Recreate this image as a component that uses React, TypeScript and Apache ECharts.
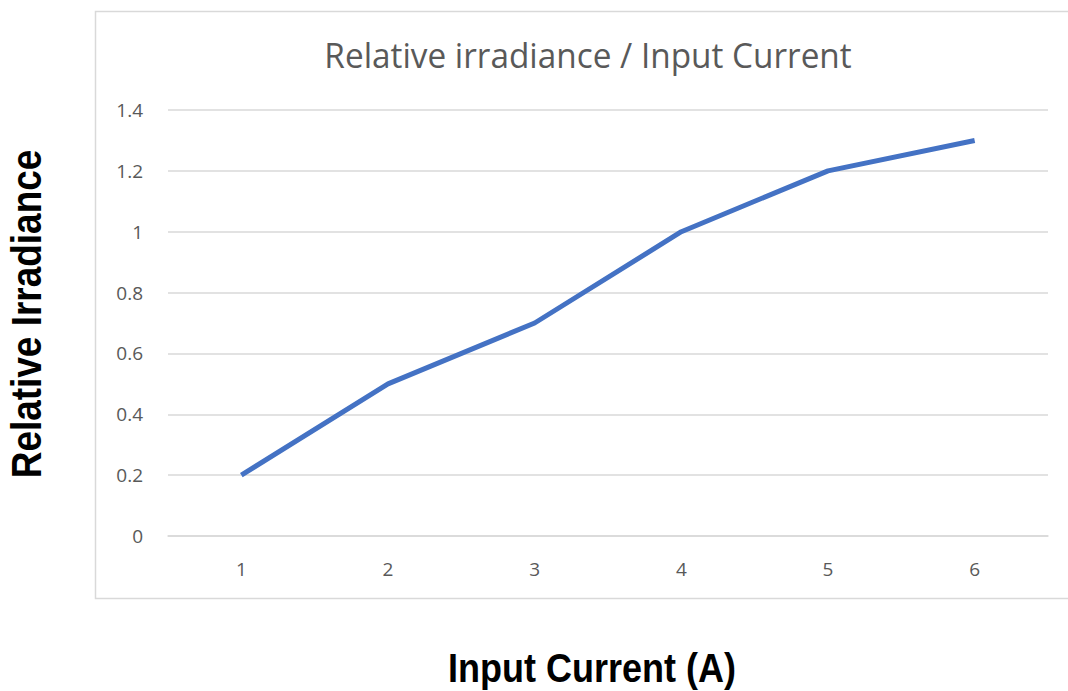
import React, { useEffect, useRef } from "react";
import * as echarts from "echarts";

const categories = ["1", "2", "3", "4", "5", "6"];
const irradiance = [0.2, 0.5, 0.7, 1.0, 1.2, 1.3];
const chartTitle = "Relative irradiance / Input Current";
const xTitle = "Input Current (A)";
const yTitle = "Relative Irradiance";

export default function App() {
  const ref = useRef<HTMLDivElement>(null);
  useEffect(() => {
    if (!ref.current) return;
    const chart = echarts.init(ref.current, undefined, { renderer: "svg" });
    chart.setOption({
      animation: false,
      backgroundColor: "#ffffff",
      grid: { left: 168, right: 20, top: 110, bottom: 155 },
      xAxis: {
        type: "category",
        data: categories,
        boundaryGap: true,
        axisLine: { lineStyle: { color: "#d9d9d9", width: 1.5 } },
        axisTick: { show: false },
        axisLabel: { color: "#595959", fontSize: 19, fontFamily: "Open Sans", margin: 23 },
      },
      yAxis: {
        type: "value",
        min: 0,
        max: 1.4,
        interval: 0.2,
        axisLine: { show: false },
        axisTick: { show: false },
        splitLine: { lineStyle: { color: "#d9d9d9", width: 1.5 } },
        axisLabel: {
          color: "#595959",
          fontSize: 19,
          fontFamily: "Open Sans",
          margin: 25,
          formatter: (v: number) => String(Math.round(v * 10) / 10),
        },
      },
      series: [
        {
          type: "line",
          data: irradiance,
          symbol: "none",
          lineStyle: { color: "#4472C4", width: 5 },
        },
      ],
      graphic: [
        {
          type: "rect",
          shape: { x: 95.5, y: 11.5, width: 980, height: 587 },
          style: { fill: "none", stroke: "#d9d9d9", lineWidth: 1.5 },
          z: -1,
        },
        {
          type: "text",
          x: 588,
          y: 55,
          scaleX: 0.98,
          style: {
            text: chartTitle,
            fontFamily: "Open Sans",
            fontSize: 34,
            fill: "#595959",
            textAlign: "center",
            textVerticalAlign: "middle",
          },
        },
        {
          type: "text",
          x: 592,
          y: 668,
          scaleX: 0.9,
          style: {
            text: xTitle,
            fontFamily: "Liberation Sans",
            fontWeight: "bold",
            fontSize: 40,
            fill: "#000000",
            textAlign: "center",
            textVerticalAlign: "middle",
          },
        },
        {
          type: "text",
          x: 26,
          y: 314,
          rotation: Math.PI / 2,
          scaleX: 0.88,
          style: {
            text: yTitle,
            fontFamily: "Liberation Sans",
            fontWeight: "bold",
            fontSize: 42,
            fill: "#000000",
            textAlign: "center",
            textVerticalAlign: "middle",
          },
        },
      ],
    });
    return () => chart.dispose();
  }, []);
  return (
    <div
      ref={ref}
      style={{ position: "absolute", left: 0, top: 0, width: 1068, height: 691 }}
    />
  );
}
